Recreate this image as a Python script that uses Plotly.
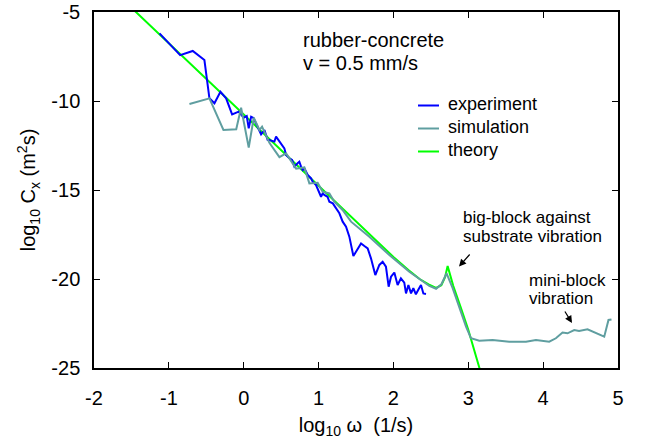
import plotly.graph_objects as go

# ---- data ----
exp_x = [-1.125, -0.849, -0.681, -0.525, -0.458, -0.391, -0.311, -0.235, -0.155, -0.067,
         0.0, 0.04, 0.067, 0.099, 0.13, 0.166, 0.232, 0.277, 0.32, 0.343,
         0.41, 0.432, 0.477, 0.50, 0.543, 0.566, 0.61, 0.646, 0.677, 0.72,
         0.743, 0.766, 0.788, 0.81, 0.833, 0.855, 0.90, 0.921, 0.966, 0.988,
         1.01, 1.033, 1.055, 1.077, 1.12, 1.144, 1.19, 1.234, 1.278, 1.322,
         1.367, 1.411, 1.465, 1.50, 1.567, 1.612, 1.656, 1.70, 1.758, 1.812,
         1.856, 1.90, 1.936, 1.968, 2.012, 2.056, 2.10, 2.145, 2.168, 2.20,
         2.235, 2.266, 2.30, 2.336, 2.368, 2.40, 2.435]
exp_y = [-6.2, -7.42, -7.19, -7.70, -9.85, -10.13, -9.48, -9.85, -10.75, -10.60,
         -10.94, -10.85, -11.53, -10.88, -10.95, -11.25, -11.87, -11.63, -12.19, -12.19,
         -12.28, -12.0, -12.28, -12.38, -12.66, -13.03, -13.22, -13.31, -13.69, -13.50,
         -13.41, -13.69, -13.88, -13.78, -13.97, -14.16, -14.35, -14.53, -14.72, -14.91,
         -15.10, -15.38, -15.19, -15.28, -15.38, -15.66, -15.75, -16.03, -16.31, -16.78,
         -17.06, -17.62, -18.71, -18.47, -18.0, -18.15, -18.28, -18.84, -19.78, -19.21,
         -19.03, -19.31, -20.43, -19.87, -19.64, -20.34, -19.96, -20.2, -20.81, -20.34,
         -20.81, -20.52, -20.86, -20.58, -20.34, -20.81, -20.84]

sim_x = [-0.725, -0.458, -0.271, -0.10, -0.035, 0.067, 0.134, 0.21, 0.245, 0.343,
         0.477, 0.566, 0.70, 0.81, 0.877, 0.988, 1.055, 1.144, 1.21, 1.32,
         1.434, 1.678, 1.945, 2.212, 2.479, 2.57, 2.64, 2.71, 2.79, 2.87,
         2.97, 3.036, 3.147, 3.325, 3.547, 3.77, 3.904, 4.081, 4.17, 4.259,
         4.326, 4.415, 4.48, 4.593, 4.705, 4.816, 4.873, 4.913]
sim_y = [-10.17, -9.85, -11.63, -11.59, -10.38, -12.62, -10.94, -11.63, -11.44, -12.35,
         -13.15, -12.94, -13.80, -13.73, -14.63, -14.59, -15.10, -15.19, -15.66, -16.12,
         -16.78, -17.62, -18.65, -19.59, -20.39, -20.55, -20.3, -19.68, -20.5, -21.5,
         -22.68, -23.33, -23.47, -23.43, -23.52, -23.52, -23.43, -23.52, -23.33, -23.01,
         -23.05, -22.87, -22.92, -22.83, -23.05, -23.24, -22.3, -22.27]

theo_x = [-1.5, -1.0, 0.0, 1.0, 1.5, 2.0, 2.2, 2.35, 2.47, 2.57, 2.64, 2.69, 2.724,
          2.76, 2.8, 2.9, 3.0, 3.1, 3.17]
theo_y = [-4.76, -6.76, -10.76, -14.76, -16.76, -18.76, -19.5, -20.0, -20.3, -20.5,
          -20.35, -19.9, -19.27, -19.85, -20.4, -21.6, -22.85, -24.3, -25.3]

x_ticks = [-2, -1, 0, 1, 2, 3, 4, 5]
y_ticks = [-25, -20, -15, -10, -5]

series_names = ["experiment", "simulation", "theory"]
series_colors = ["#0000ff", "#5f9ea0", "#00ff00"]

FONT = "Liberation Sans, Arial, sans-serif"
W, H = 651, 439
L, R, T, B = 94, 33, 12, 71


def px2paper(px, py):
    return (px - L) / (W - L - R), (H - B - py) / (H - T - B)


fig = go.Figure()
fig.add_trace(go.Scatter(x=theo_x, y=theo_y, mode="lines", name=series_names[2],
                         line=dict(color=series_colors[2], width=2)))
fig.add_trace(go.Scatter(x=exp_x, y=exp_y, mode="lines", name=series_names[0],
                         line=dict(color=series_colors[0], width=2)))
fig.add_trace(go.Scatter(x=sim_x, y=sim_y, mode="lines", name=series_names[1],
                         line=dict(color=series_colors[1], width=2)))

annotations = []
shapes = []


def text(s, px, py, size, xanchor="left"):
    xp, yp = px2paper(px, py)
    annotations.append(dict(text=s, x=xp, y=yp, xref="paper", yref="paper",
                            xanchor=xanchor, yanchor="middle", showarrow=False,
                            font=dict(size=size, color="black", family=FONT)))


text("rubber-concrete", 301, 40, 20)
text("v = 0.5 mm/s", 301, 63, 20)
text("big-block against", 461, 217, 17)
text("substrate vibration", 461, 236, 17)
text("mini-block", 527, 280, 17)
text("vibration", 527, 298, 17)

# legend (manual)
leg_y = [105.5, 128.5, 151.5]
order = [0, 1, 2]
for i, k in enumerate(order):
    x0, y0 = px2paper(418, leg_y[i])
    x1, _ = px2paper(439, leg_y[i])
    shapes.append(dict(type="line", xref="paper", yref="paper", x0=x0, x1=x1, y0=y0, y1=y0,
                       line=dict(color=series_colors[k], width=2)))
    text(series_names[k], 446, leg_y[i] - 1.5, 18)


def arrow(tx, ty, hx, hy):
    xp, yp = px2paper(hx, hy)
    annotations.append(dict(text="", x=xp, y=yp, xref="paper", yref="paper",
                            ax=tx - hx, ay=ty - hy, showarrow=True,
                            arrowhead=2, arrowsize=1.2, arrowwidth=1.2, arrowcolor="black"))


arrow(471, 253, 459, 266.5)
arrow(564, 310, 572, 323)

fig.update_layout(
    width=W, height=H,
    margin=dict(l=L, r=R, t=T, b=B, pad=0, autoexpand=False),
    paper_bgcolor="white", plot_bgcolor="white",
    showlegend=False,
    font=dict(family=FONT, size=20, color="black"),
    annotations=annotations, shapes=shapes,
    xaxis=dict(range=[-2, 5], tickvals=x_ticks, ticktext=[str(v) for v in x_ticks],
               automargin=False,
               showgrid=False, zeroline=False, showline=True, linecolor="black", linewidth=1.5,
               mirror="ticks", ticks="inside", ticklen=6, tickwidth=1.2, tickcolor="black",
               tickfont=dict(size=20), ticklabelstandoff=11,
               title=dict(text="log<sub>10</sub> ω\u00a0\u00a0(1/s)", font=dict(size=20), standoff=12)),
    yaxis=dict(range=[-25, -5], tickvals=y_ticks, ticktext=[str(v) for v in y_ticks],
               automargin=False,
               showgrid=False, zeroline=False, showline=True, linecolor="black", linewidth=1.5,
               mirror="ticks", ticks="inside", ticklen=6, tickwidth=1.2, tickcolor="black",
               tickfont=dict(size=20), ticklabelstandoff=8,
               title=dict(text="log<sub>10</sub> C<sub>x</sub> (m<sup>2</sup>s)", font=dict(size=20), standoff=10)),
)

fig.write_html("out.html")
